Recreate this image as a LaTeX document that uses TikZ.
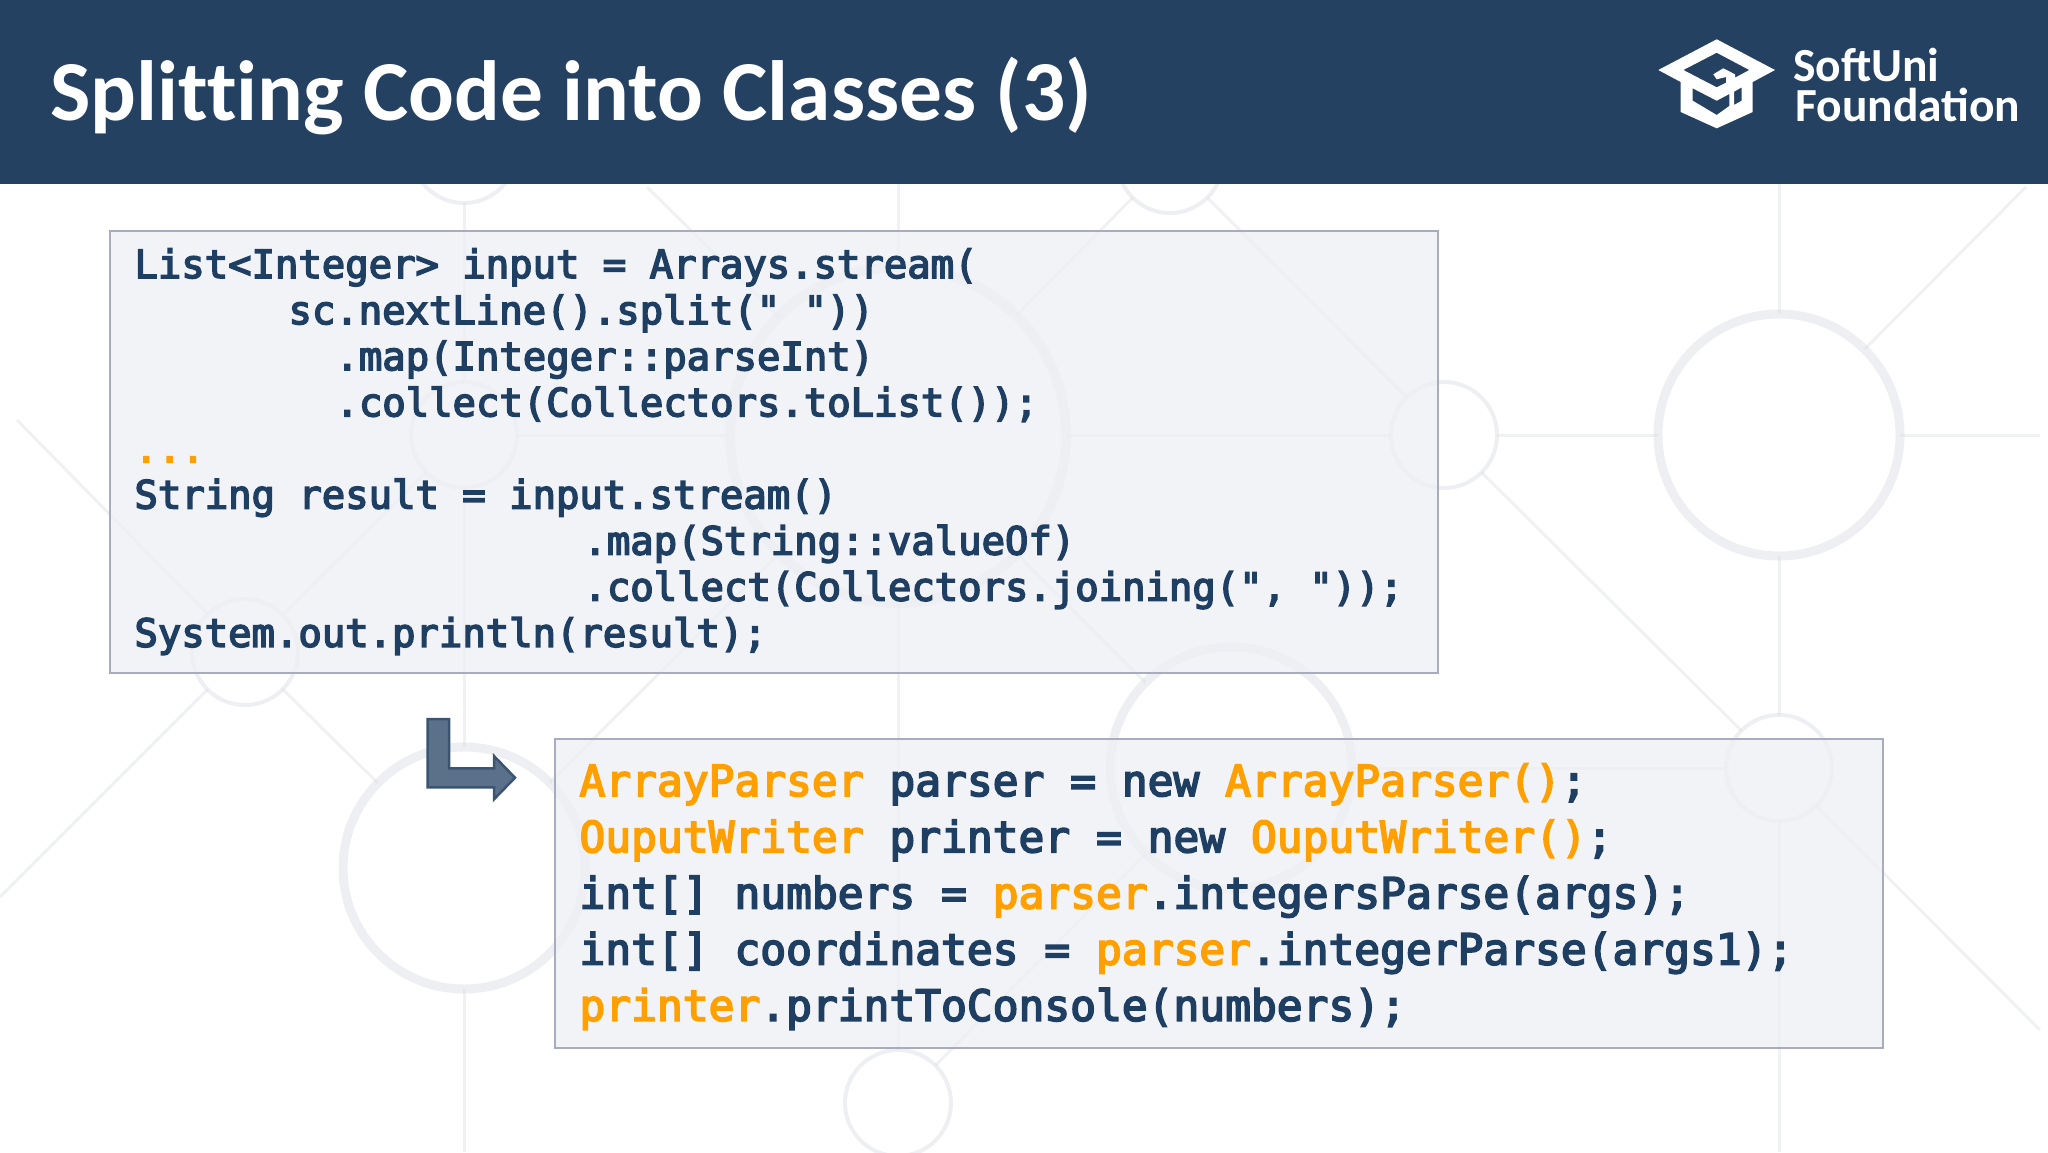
\documentclass[tikz,border=0pt]{standalone}
\usepackage{fontspec}
\setmainfont{Carlito}
\newfontfamily\titlefont[Ligatures={NoCommon,NoRare}]{Carlito}
\newfontfamily\codefont[FakeBold=4]{DejaVu Sans Mono}
\definecolor{headerblue}{HTML}{244162}
\definecolor{codeblue}{HTML}{1F3F62}
\definecolor{codeorange}{HTML}{FFA000}
\definecolor{webgrey}{HTML}{D5D8DE}
\definecolor{boxfill}{HTML}{EDEFF4}
\definecolor{boxline}{HTML}{A9ACBF}
\newcommand{\hl}[1]{\textcolor{codeorange}{#1}}
\newcommand{\ind}[1]{\hspace*{#1pt}}
\newcommand{\codespaces}{\spaceskip=.602em\relax}
\tikzset{
    smallring/.style={circle,draw=webgrey,draw opacity=0.4,line width=4pt,inner sep=0pt,outer sep=0pt,minimum size=106pt},
    bigring/.style={smallring,line width=9pt,minimum size=242pt},
    hugering/.style={smallring,line width=10pt,minimum size=336pt},
    webline/.style={draw=webgrey,opacity=0.35,line width=3pt},
    codebox/.style={draw=boxline,line width=2.5pt,fill=boxfill,fill opacity=0.75,text opacity=1,
        anchor=north west,align=left,inner ysep=0pt,inner xsep=24.5pt,outer sep=0pt,text=codeblue},
    logotext/.style={anchor=base west,text=white,inner sep=0pt,font=\fontsize{47.5}{50}\selectfont\bfseries}
}
\begin{document}
\begin{tikzpicture}[x=1pt,y=-1pt]
    \useasboundingbox (0,0) rectangle (2048,1152);
    %% Background rings
    \node[bigring] (ringA) at (1779,435) {};
    \node[smallring] (ringB) at (1444,435) {};
    \node[bigring] (ringC) at (1231,768) {};
    \node[smallring] (ringD) at (1779,768) {};
    \node[hugering] (ringE) at (898,435) {};
    \node[smallring] (ringF) at (464,435) {};
    \node[smallring] (ringG) at (464,150) {};
    \node[bigring] (ringH) at (464,868) {};
    \node[smallring] (ringI) at (245,652) {};
    \node[smallring] (ringJ) at (1170,160) {};
    \node[smallring] (ringK) at (898,1103) {};
    %% Free ends of the web
    \coordinate (endA) at (2040,435);
    \coordinate (endB) at (1779,184);
    \coordinate (endC) at (1779,1152);
    \coordinate (endD) at (2026,187);
    \coordinate (endE) at (2040,1030);
    \coordinate (endF) at (464,1152);
    \coordinate (endG) at (0,897);
    \coordinate (endH) at (17,420);
    \coordinate (endI) at (647,187);
    \coordinate (endJ) at (898,184);
    %% Background lines
    \draw[webline] (ringA) -- (ringB);
    \draw[webline] (ringA) -- (endA);
    \draw[webline] (ringA) -- (endB);
    \draw[webline] (ringA) -- (ringD);
    \draw[webline] (ringD) -- (endC);
    \draw[webline] (ringA) -- (endD);
    \draw[webline] (ringB) -- (ringD);
    \draw[webline] (ringD) -- (endE);
    \draw[webline] (ringC) -- (ringD);
    \draw[webline] (ringB) -- (ringE);
    \draw[webline] (ringE) -- (ringF);
    \draw[webline] (ringF) -- (ringG);
    \draw[webline] (ringF) -- (ringH);
    \draw[webline] (ringH) -- (endF);
    \draw[webline] (ringF) -- (ringI);
    \draw[webline] (ringI) -- (ringH);
    \draw[webline] (ringI) -- (endG);
    \draw[webline] (ringI) -- (endH);
    \draw[webline] (ringE) -- (endI);
    \draw[webline] (ringE) -- (ringJ);
    \draw[webline] (ringJ) -- (ringB);
    \draw[webline] (ringE) -- (ringC);
    \draw[webline] (ringE) -- (ringH);
    \draw[webline] (ringE) -- (ringK);
    \draw[webline] (ringE) -- (endJ);
    \draw[webline] (ringC) -- (ringK);
    %% Header
    \node[fill=headerblue,anchor=north west,inner sep=0pt,minimum width=2048pt,minimum height=184pt] (header) at (0,0) {};
    \node[anchor=base west,text=white,inner sep=0pt,font=\titlefont\fontsize{85.4}{85}\selectfont\bfseries] (title) at (50,120) {Splitting Code into Classes (3)};
    %% Logo
    \fill[white,even odd rule] (1716.7,39.3) -- (1775,70) -- (1752.7,82) -- (1752.7,112) -- (1716.7,128.3)
        -- (1680.7,112) -- (1680.7,82) -- (1658.3,70) -- cycle
        (1716.7,52.7) -- (1683.3,70) -- (1716.7,87.3) -- (1726,82.7) -- (1726,77) -- (1716.7,79.3) -- (1713.3,74.3)
        -- (1723.3,68.3) -- (1735,74.3) -- (1735,77.7) -- (1749.3,70) -- cycle
        (1692.7,88.3) -- (1716.7,100.7) -- (1729.3,94) -- (1729.3,106) -- (1716.7,115) -- (1692.7,100.7) -- cycle
        (1734,91.7) -- (1741.7,87.3) -- (1741.7,100.7) -- (1734,105) -- cycle;
    \node[logotext] (logotop) at (1793,81) {SoftUni};
    \node[logotext] (logobottom) at (1795,121) {Foundation};
    %% Source code
    \node[codebox,text width=1279pt,text height=47pt,text depth=395pt,
        font=\codefont\fontsize{38.9}{46.1}\selectfont\frenchspacing] (srcbox) at (110,231) {\codespaces
List<Integer> input = Arrays.stream(\\
\ind{154}sc.nextLine().split(" "))\\
\ind{201}.map(Integer::parseInt)\\
\ind{201}.collect(Collectors.toList());\\
\hl{...}\\
String result = input.stream()\\
\ind{449}.map(String::valueOf)\\
\ind{449}.collect(Collectors.joining(", "));\\
System.out.println(result);};
    %% Refactored code
    \node[codebox,text width=1279pt,text height=57pt,text depth=252pt,
        font=\codefont\fontsize{42.9}{56.2}\selectfont\frenchspacing] (newbox) at (555,739) {\codespaces
\hl{ArrayParser} parser = new \hl{ArrayParser()};\\
\hl{OuputWriter} printer = new \hl{OuputWriter()};\\
int[] numbers = \hl{parser}.integersParse(args);\\
int[] coordinates = \hl{parser}.integerParse(args1);\\
\hl{printer}.printToConsole(numbers);};
    %% Bent arrow
    \draw[draw=headerblue!90,fill=headerblue!75!white,line width=2.5pt] (427.7,719) -- (449,719) -- (449,768.3) -- (494,768.3)
        -- (494,756) -- (515,777.7) -- (494,799.3) -- (494,787.3) -- (427.7,787.3) -- cycle;
\end{tikzpicture}
\end{document}
